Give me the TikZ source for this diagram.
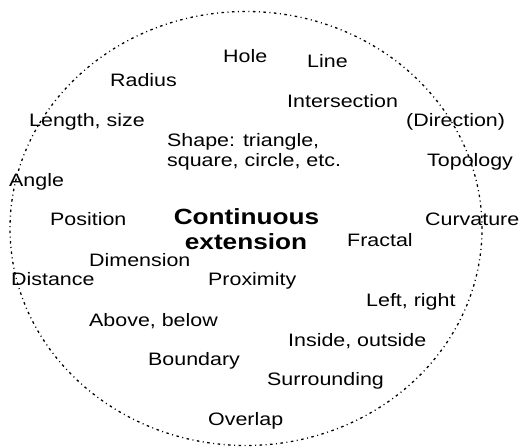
\documentclass[tikz,border=0pt]{standalone}
\usepackage{fontspec}
\setmainfont{Liberation Sans}[FakeStretch=1.19]
\begin{document}
\begin{tikzpicture}[x=1pt,y=1pt,
  lbl/.style={anchor=base west,inner sep=0pt,font=\fontsize{18}{20}\selectfont},
  title/.style={align=center,inner sep=0pt,font=\fontsize{22}{25}\selectfont\bfseries},
  rim/.style={draw=black,line width=1.3pt,dash pattern=on 2.5pt off 3.5pt on 1pt off 3.5pt}]
\useasboundingbox (0,0) rectangle (521,447);
\draw[rim] (246,218.5) ellipse [x radius=236, y radius=217];
\node[lbl] (hole) at (223,384) {Hole};
\node[lbl] (line) at (307,379) {Line};
\node[lbl] (radius) at (110,360) {Radius};
\node[lbl] (inter) at (287,339) {Intersection};
\node[lbl] (dir) at (406,320) {(Direction)};
\node[lbl] (len) at (29,320) {Length, size};
\node[lbl] (shape1) at (167,300) {Shape: triangle,};
\node[lbl] (shape2) at (167,280) {square, circle, etc.};
\node[lbl] (topo) at (427,280) {Topology};
\node[lbl] (angle) at (9,260) {Angle};
\node[lbl] (pos) at (50,221) {Position};
\node[title,anchor=base] (cont) at (246.5,222) {Continuous};
\node[title,anchor=base] (ext) at (246,197) {extension};
\node[lbl] (curv) at (425,221) {Curvature};
\node[lbl] (fract) at (347,200) {Fractal};
\node[lbl] (dim) at (89,180) {Dimension};
\node[lbl] (dist) at (11,161) {Distance};
\node[lbl] (prox) at (208,161) {Proximity};
\node[lbl] (lr) at (366,141) {Left, right};
\node[lbl] (ab) at (89,121) {Above, below};
\node[lbl] (io) at (288,101) {Inside, outside};
\node[lbl] (bound) at (148,82) {Boundary};
\node[lbl] (surr) at (267,62) {Surrounding};
\node[lbl] (over) at (208,22) {Overlap};
\end{tikzpicture}
\end{document}
